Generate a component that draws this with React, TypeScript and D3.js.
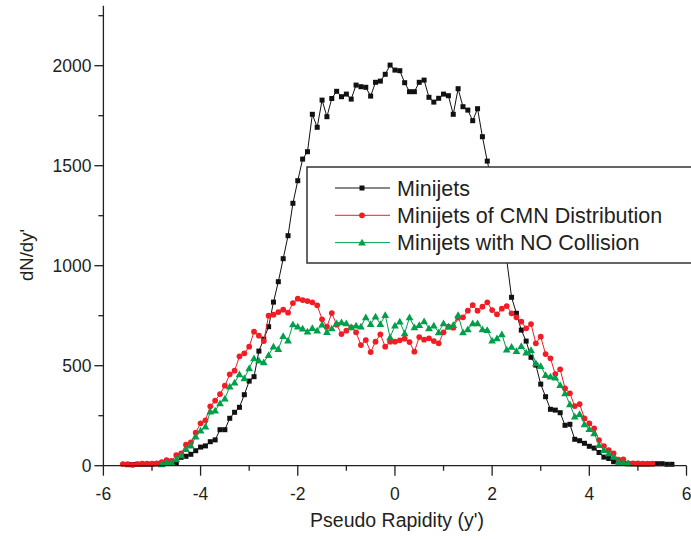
import React from "react";
import * as d3 from "d3";

// rapidity grid: each series is sampled every 0.1 from its first point
const STEP = 0.1;
const minijetsStart = -5.5;
const cmnStart = -5.6;
const noCollStart = -4.8;

const minijets = [
  5, 6, 7, 7, 7, 7, 9, 12, 12, 15, 16, 42, 47, 57, 75, 93, 99, 120, 129, 180,
  180, 237, 267, 292, 355, 423, 445, 573, 633, 695, 818, 920, 1035, 1150, 1312, 1425, 1533, 1570, 1757, 1692,
  1828, 1745, 1836, 1872, 1845, 1858, 1833, 1903, 1895, 1892, 1848, 1917, 1923, 1957, 2003, 1978, 1975, 1915, 1870, 1870,
  1917, 1928, 1842, 1818, 1837, 1858, 1850, 1757, 1885, 1795, 1778, 1725, 1785, 1645, 1523, 1410, 1300, 1170, 1030, 842,
  762, 678, 623, 542, 503, 408, 345, 282, 278, 265, 202, 207, 132, 125, 112, 97, 88, 66, 43, 36,
  20, 18, 13, 10, 9, 8, 8, 8, 9, 10, 10, 7, 7,
];

const cmn = [
  8, 8, 4, 8, 10, 10, 10, 12, 18, 28, 24, 53, 62, 105, 116, 165, 212, 227, 297, 325,
  358, 400, 457, 475, 547, 562, 595, 670, 650, 623, 750, 755, 768, 780, 765, 813, 835, 828, 823, 817,
  802, 732, 695, 763, 705, 658, 675, 692, 667, 603, 628, 568, 620, 657, 595, 620, 620, 627, 635, 618,
  570, 643, 630, 637, 623, 612, 667, 695, 690, 740, 742, 775, 803, 775, 795, 817, 778, 757, 785, 798,
  762, 742, 720, 687, 708, 612, 645, 558, 537, 458, 482, 387, 362, 298, 308, 237, 212, 187, 128, 98,
  78, 62, 30, 32, 12, 12, 12, 10, 10, 10,
];

const noCollision = [
  7, 17, 16, 32, 52, 83, 100, 145, 175, 195, 270, 275, 312, 335, 395, 415, 457, 437, 487, 537,
  525, 517, 553, 595, 583, 648, 625, 707, 695, 685, 670, 688, 675, 705, 668, 686, 712, 717, 712, 692,
  700, 695, 742, 708, 745, 708, 753, 642, 700, 720, 662, 742, 692, 703, 722, 687, 700, 667, 712, 695,
  703, 753, 667, 682, 712, 712, 682, 678, 625, 637, 657, 580, 594, 573, 598, 565, 578, 512, 498, 453,
  445, 440, 403, 362, 307, 245, 258, 207, 183, 162, 103, 78, 62, 45, 20, 15, 12,
];

const xMajor = [-6, -4, -2, 0, 2, 4, 6];
const xMinor = [-5, -3, -1, 1, 3, 5];
const yMajor = [0, 500, 1000, 1500, 2000];
const yMinor = [250, 750, 1250, 1750, 2250];

const legendNames = ["Minijets", "Minijets of CMN Distribution", "Minijets with NO Collision"];

const W = 691, H = 539;
const FONT = "'Liberation Sans', Arial, Helvetica, sans-serif";
const AXIS = "#231f20";

const x = d3.scaleLinear().domain([-6, 6]).range([103.4, 686.5]);
const y = d3.scaleLinear().domain([0, 2300]).range([465.7, 5.7]);

type Pt = { x: number; y: number };
const toPts = (start: number, vals: number[]): Pt[] =>
  vals.map((v, i) => ({ x: +(start + i * STEP).toFixed(2), y: v }));

const line = d3.line<Pt>().x(d => x(d.x)).y(d => y(d.y));
const tri = d3.symbol().type(d3.symbolTriangle).size(26)() as string;

function Marker({ kind, cx, cy, color }: { kind: string; cx: number; cy: number; color: string }) {
  if (kind === "square") return <rect x={cx - 2.5} y={cy - 2.5} width={5} height={5} fill={color} />;
  if (kind === "circle") return <circle cx={cx} cy={cy} r={2.9} fill={color} />;
  return <path d={tri} transform={`translate(${cx},${cy + 0.6})`} fill={color} />;
}

const series = [
  { name: legendNames[0], pts: toPts(minijetsStart, minijets), color: "#111111", kind: "square" },
  { name: legendNames[1], pts: toPts(cmnStart, cmn), color: "#f21c24", kind: "circle" },
  { name: legendNames[2], pts: toPts(noCollStart, noCollision), color: "#00a04a", kind: "triangle" },
];

export default function App() {
  const x0 = x.range()[0];
  const y0 = y.range()[0];
  return (
    <svg width={W} height={H} style={{ position: "absolute", left: 0, top: 0, background: "#fff" }} fontFamily={FONT}>
      {series.map(s => (
        <g key={s.name}>
          <path d={line(s.pts) || ""} fill="none" stroke={s.color} strokeWidth={1} />
          {s.pts.map((p, i) => (
            <Marker key={i} kind={s.kind} cx={x(p.x)} cy={y(p.y)} color={s.color} />
          ))}
        </g>
      ))}

      {/* axes */}
      <line x1={x0} x2={x0} y1={y.range()[1]} y2={y0} stroke={AXIS} strokeWidth={1.3} />
      <line x1={x0} x2={x.range()[1]} y1={y0} y2={y0} stroke={AXIS} strokeWidth={1.3} />
      {xMajor.map(t => (
        <g key={"xM" + t}>
          <line x1={x(t)} x2={x(t)} y1={y0} y2={y0 + 10} stroke={AXIS} strokeWidth={1.3} />
          <text x={x(t)} y={y0 + 34} textAnchor="middle" fontSize={17.5} fill={AXIS}>{t}</text>
        </g>
      ))}
      {xMinor.map(t => (
        <line key={"xm" + t} x1={x(t)} x2={x(t)} y1={y0} y2={y0 + 5} stroke={AXIS} strokeWidth={1.3} />
      ))}
      {yMajor.map(t => (
        <g key={"yM" + t}>
          <line x1={x0 - 9} x2={x0} y1={y(t)} y2={y(t)} stroke={AXIS} strokeWidth={1.3} />
          <text x={x0 - 12} y={y(t) + 6} textAnchor="end" fontSize={17.5} fill={AXIS}>{t}</text>
        </g>
      ))}
      {yMinor.map(t => (
        <line key={"ym" + t} x1={x0 - 5} x2={x0} y1={y(t)} y2={y(t)} stroke={AXIS} strokeWidth={1.3} />
      ))}

      <text x={397} y={527} textAnchor="middle" fontSize={19.5} fill={AXIS}>Pseudo Rapidity (y')</text>
      <text transform="translate(33,255) rotate(-90)" textAnchor="middle" fontSize={18.5} fill={AXIS}>dN/dy'</text>

      {/* legend */}
      <rect x={307} y={167} width={400} height={96} fill="#fff" stroke="#333" strokeWidth={1.5} />
      {series.map((s, i) => {
        const ly = 188 + i * 27.3;
        return (
          <g key={"lg" + i}>
            <line x1={335} x2={390} y1={ly} y2={ly} stroke={s.color} strokeWidth={1} />
            <Marker kind={s.kind} cx={362} cy={ly} color={s.color} />
            <text x={397} y={ly + 7.5} fontSize={21.5} fill={AXIS}>{s.name}</text>
          </g>
        );
      })}
    </svg>
  );
}
